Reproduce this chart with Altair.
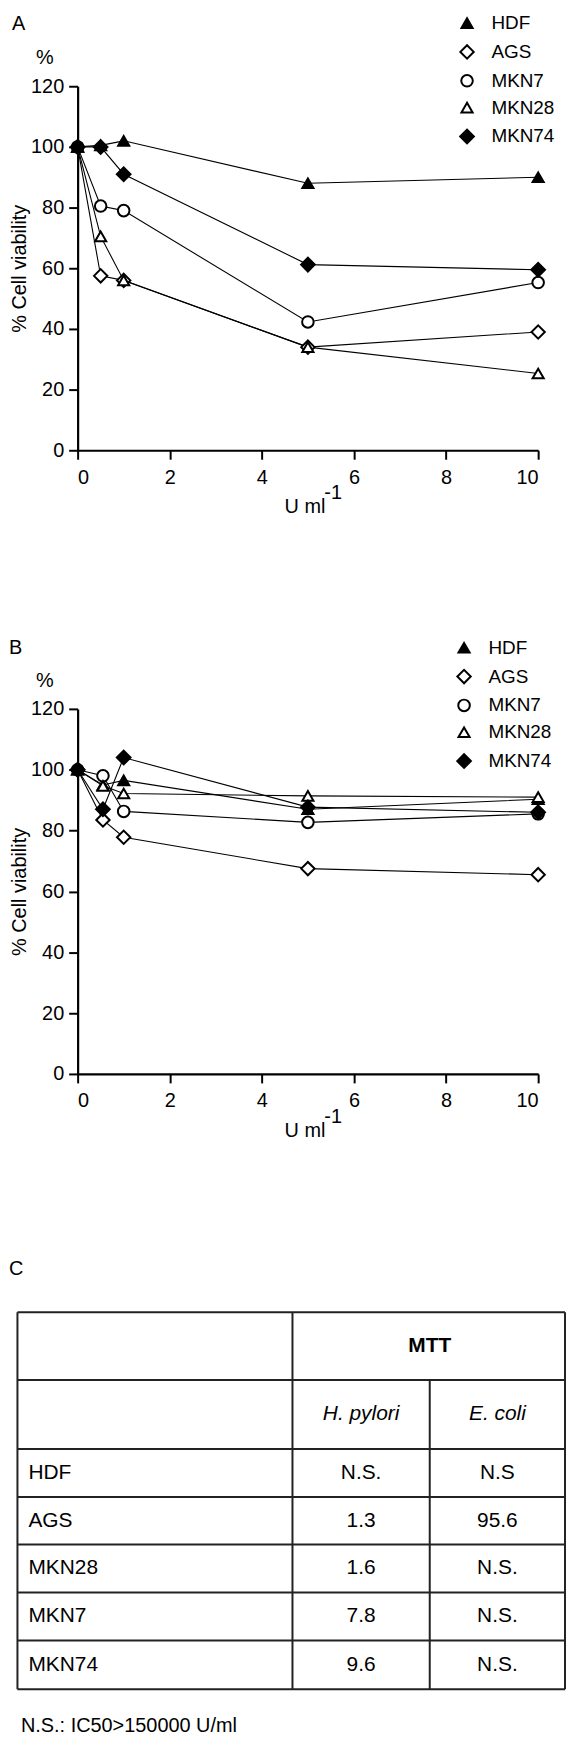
import altair as alt
import pandas as pd

F = "Liberation Sans"

# ---------------- data ----------------
series = ["HDF", "AGS", "MKN7", "MKN28", "MKN74"]
shapes = ["triangle-up", "diamond", "circle", "triangle-up", "diamond"]
fills = ["black", "white", "white", "white", "black"]
strokes = ["black", "black", "black", "black", "black"]
sizes = [125, 180, 135, 125, 190]

dose_a = [0, 0.5, 1, 5, 10]
a_hdf = [100, 100.5, 102, 88, 90]
a_ags = [100, 57.5, 56, 34, 39]
a_mkn7 = [100, 80.5, 79, 42.3, 55.3]
a_mkn28 = [100, 70.5, 56, 34, 25.3]
a_mkn74 = [100, 100, 91, 61.2, 59.5]

dose_b = [0, 0.55, 1, 5, 10]
b_hdf = [100, 95, 96.5, 87, 90.3]
b_ags = [100, 83.5, 77.8, 67.5, 65.5]
b_mkn7 = [100, 98, 86.3, 82.7, 85.5]
b_mkn28 = [100, 94.7, 92.2, 91.4, 91]
b_mkn74 = [100, 87, 104, 87.7, 86]

x_ticks = [0, 2, 4, 6, 8, 10]
y_ticks = [0, 20, 40, 60, 80, 100, 120]

# table C
row_labels = ["HDF", "AGS", "MKN28", "MKN7", "MKN74"]
hp_vals = ["N.S.", "1.3", "1.6", "7.8", "9.6"]
ec_vals = ["N.S", "95.6", "N.S.", "N.S.", "N.S."]
header_main = "MTT"
header_sub = ["H. pylori", "E. coli"]
footnote = "N.S.: IC50>150000 U/ml"

W, HA, HB = 463, 366, 367


def text_layer(txt, x, y, size=20, align="left", weight="normal", style="normal"):
    return alt.Chart(pd.DataFrame({"t": [txt]})).mark_text(
        font=F, fontSize=size, align=align, baseline="middle", color="black",
        fontWeight=weight, fontStyle=style
    ).encode(text="t:N", x=alt.value(x), y=alt.value(y))


def panel(dose, vals, h, letter, leg_x, leg_y):
    rows = []
    for s, v in zip(series, vals):
        for d, yv in zip(dose, v):
            rows.append({"dose": d, "viab": yv, "line": s})
    df = pd.DataFrame(rows)
    x = alt.X("dose:Q", scale=alt.Scale(domain=[0, 10], nice=False, zero=False),
              axis=alt.Axis(values=x_ticks, title=None, labelPadding=8))
    y = alt.Y("viab:Q", scale=alt.Scale(domain=[0, 120], nice=False),
              axis=alt.Axis(values=y_ticks, title="% Cell viability", labelPadding=5, titlePadding=1))
    leg = alt.Legend(title=None, orient="none", legendX=leg_x, legendY=leg_y,
                     labelFont=F, labelFontSize=19, labelColor="black",
                     symbolStrokeWidth=2, symbolOpacity=1,
                     rowPadding=7, padding=0, labelOffset=15)
    lines = alt.Chart(df).mark_line(color="black", strokeWidth=1.1).encode(
        x=x, y=y, detail="line:N", order="dose:Q")
    pts = alt.Chart(df).mark_point(filled=True, strokeWidth=2, opacity=1).encode(
        x=x, y=y,
        shape=alt.Shape("line:N", scale=alt.Scale(domain=series, range=shapes), legend=leg),
        fill=alt.Fill("line:N", scale=alt.Scale(domain=series, range=fills), legend=leg),
        stroke=alt.Stroke("line:N", scale=alt.Scale(domain=series, range=strokes), legend=leg),
        size=alt.Size("line:N", scale=alt.Scale(type="ordinal", domain=series, range=sizes), legend=leg),
    )
    return alt.layer(
        lines, pts,
        text_layer(letter, -66 if letter == "A" else -69, -62.5 if letter == "A" else -61),
        text_layer("%", -33, -28, align="center"),
        text_layer("U ml", 208, h + 57),
        text_layer("-1", 248, h + 43),
    ).properties(width=W, height=h)


chart_a = panel(dose_a, [a_hdf, a_ags, a_mkn7, a_mkn28, a_mkn74], HA, "A", 382, -73)
chart_b = panel(dose_b, [b_hdf, b_ags, b_mkn7, b_mkn28, b_mkn74], HB, "B", 379, -71)

# ---------------- table ----------------
col_scale = alt.Scale(domain=[0, 1, 2, 3], range=[-60.5, 216, 354, 490], nice=False, zero=False)
row_scale = alt.Scale(domain=[0, 1, 2, 3, 4, 5, 6, 7],
                      range=[-20.5, 47.7, 117, 165.3, 213, 261.3, 309.7, 358.7], nice=False, zero=False)

h_df = pd.DataFrame({"r": list(range(8)), "c0": [0] * 8, "c1": [3] * 8})
v_df = pd.DataFrame({"c": [0, 1, 2, 3], "r0": [0, 0, 1, 0], "r1": [7, 7, 7, 7]})

h_rules = alt.Chart(h_df).mark_rule(color="#222", strokeWidth=2).encode(
    x=alt.X("c0:Q", scale=col_scale, axis=None), x2="c1:Q",
    y=alt.Y("r:Q", scale=row_scale, axis=None))
v_rules = alt.Chart(v_df).mark_rule(color="#222", strokeWidth=2).encode(
    x=alt.X("c:Q", scale=col_scale, axis=None),
    y=alt.Y("r0:Q", scale=row_scale, axis=None), y2="r1:Q")

lab_df = pd.DataFrame({"t": row_labels, "c": [0] * 5, "r": [2.5 + i for i in range(5)]})
val_df = pd.DataFrame({
    "t": hp_vals + ec_vals,
    "c": [1.5] * 5 + [2.5] * 5,
    "r": [2.5 + i for i in range(5)] * 2,
})
sub_df = pd.DataFrame({"t": header_sub, "c": [1.5, 2.5], "r": [1.5, 1.5]})
main_df = pd.DataFrame({"t": [header_main], "c": [2], "r": [0.5]})


def cell_text(df, align="center", dx=0, weight="normal", style="normal"):
    return alt.Chart(df).mark_text(font=F, fontSize=21, color="black", align=align, dx=dx,
                                   baseline="middle", fontWeight=weight, fontStyle=style).encode(
        x=alt.X("c:Q", scale=col_scale, axis=None),
        y=alt.Y("r:Q", scale=row_scale, axis=None),
        text="t:N")


chart_c = alt.layer(
    h_rules, v_rules,
    cell_text(lab_df, align="left", dx=11),
    cell_text(val_df),
    cell_text(sub_df, style="italic"),
    cell_text(main_df, weight="bold"),
    text_layer("C", -69, -64),
    text_layer(footnote, -57, 396, size=20),
).properties(width=W, height=359)

chart = alt.vconcat(chart_a, chart_b, chart_c, spacing=260, bounds="flush").resolve_scale(
    x="independent", y="independent", shape="independent", fill="independent",
    stroke="independent", size="independent"
).properties(padding=0).configure_view(stroke="transparent").configure_axis(
    domainColor="black", domainWidth=2.2, tickColor="black", tickWidth=2, tickSize=9,
    labelFont=F, labelFontSize=20, labelColor="black",
    titleFont=F, titleFontSize=20, titleFontWeight="normal", titleColor="black", grid=False
)

chart.save("out.html", embed_options={"renderer": "svg", "actions": False})
